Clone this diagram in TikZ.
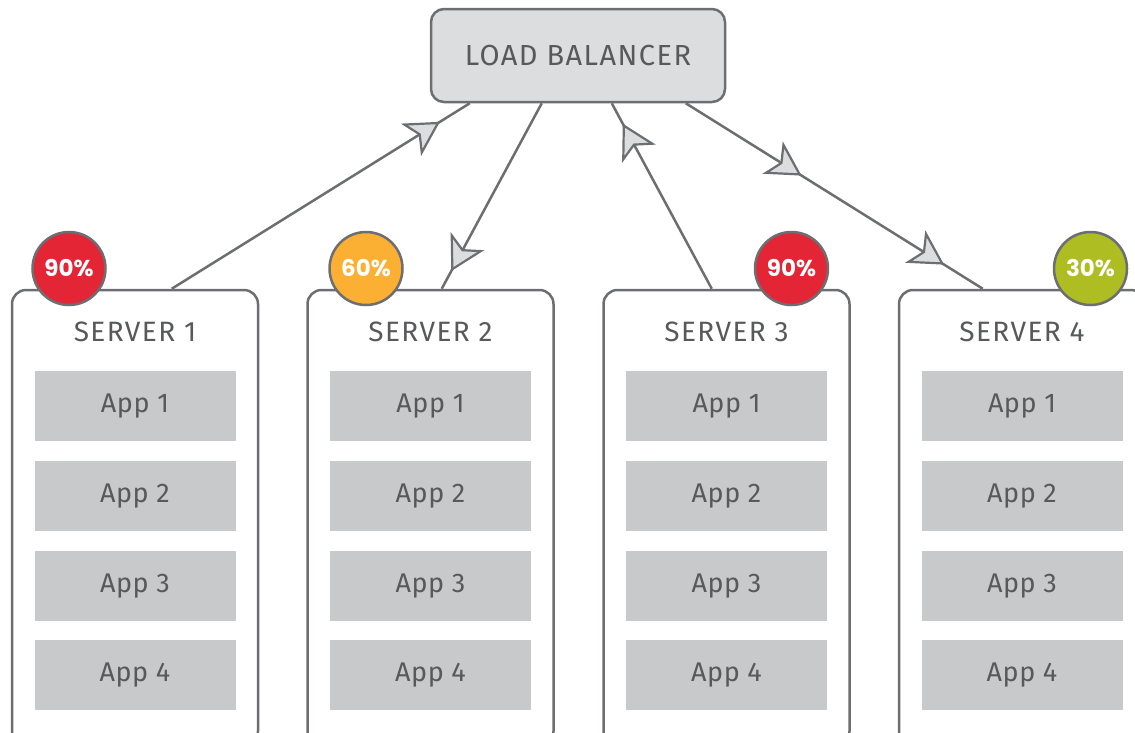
\documentclass[tikz,border=0pt]{standalone}
\usepackage{fontspec}
\setmainfont{Fira Sans}[LetterSpace=5]
\newfontfamily\appfont{Fira Sans}[LetterSpace=2]
\newfontfamily\pctfont{Poppins}
\usetikzlibrary{arrows.meta,decorations.markings}

\definecolor{edge}{HTML}{6D6E71}
\definecolor{ink}{HTML}{58595B}
\definecolor{lbfill}{HTML}{DCDDDF}
\definecolor{appfill}{HTML}{C8C9CB}
\definecolor{tipfill}{HTML}{DCDDDF}
\definecolor{hot}{HTML}{E42535}
\definecolor{warm}{HTML}{FBB034}
\definecolor{cool}{HTML}{AEBD21}

\tikzset{
  flowtip/.tip={Stealth[length=34pt, width=38pt, inset=9pt, fill=tipfill, line width=2.2pt]},
  lbbox/.style={draw=edge, line width=2.5pt, fill=lbfill, rounded corners=13pt,
    minimum width=294pt, minimum height=93pt, text=ink,
    font=\fontsize{29}{32}\selectfont},
  srvbox/.style={draw=edge, line width=2.5pt, fill=white, rounded corners=14pt,
    minimum width=246pt, minimum height=455pt},
  srvtitle/.style={text=ink, font=\fontsize{28}{30}\selectfont},
  appbox/.style={fill=appfill, minimum width=201pt, minimum height=70pt,
    text=ink, font=\appfont\fontsize{27}{29}\selectfont},
  load/.style={circle, draw=edge, line width=2.5pt, minimum size=73pt,
    inner sep=0pt, text=white, font=\pctfont\bfseries\fontsize{23}{25}\selectfont},
  flow/.style={draw=edge, line width=2.5pt, postaction={decorate},
    decoration={markings, mark=at position #1 with {\arrow{flowtip}}}},
  flowtwo/.style 2 args={draw=edge, line width=2.5pt, postaction={decorate},
    decoration={markings,
      mark=at position #1 with {\arrow{flowtip}},
      mark=at position #2 with {\arrow{flowtip}}}}
}

\begin{document}
\begin{tikzpicture}[x=1pt, y=-1pt]
\useasboundingbox (0,0) rectangle (1135,732);
\clip (0,0) rectangle (1135,732);

% load balancer
\node[lbbox] (lb) at (578,55.5) {LOAD BALANCER};

% servers with their applications
\foreach \i/\cx in {1/135, 2/430.5, 3/726.5, 4/1022} {
  \node[srvbox] (s\i) at (\cx,517.5) {};
  \node[srvtitle] (t\i) at (\cx,332) {SERVER \i};
  \foreach \k/\cy in {1/406, 2/496, 3/586, 4/675} {
    \node[appbox] (a\i\k) at (\cx,\cy) {\raisebox{-2pt}{App \k}};
  }
}

% attachment points of the connectors
\coordinate (s1out) at ([xshift=161pt]s1.north west);
\coordinate (lbin1) at ([xshift=40pt]lb.south west);
\coordinate (lbout2) at ([xshift=112pt]lb.south west);
\coordinate (s2in) at ([xshift=135.5pt]s2.north west);
\coordinate (s3out) at ([xshift=109.5pt]s3.north west);
\coordinate (lbin3) at ([xshift=182pt]lb.south west);
\coordinate (lbout4) at ([xshift=256pt]lb.south west);
\coordinate (s4in) at ([xshift=85pt]s4.north west);

% traffic
\draw[flow=0.90] (s1out) -- (lbin1);
\draw[flow=0.905] (lbout2) -- (s2in);
\draw[flow=0.89] (s3out) -- (lbin3);
\draw[flowtwo={0.39}{0.87}] (lbout4) -- (s4in);

% load badges
\node[load, fill=hot]  (c1) at (69,268.5)  {90\%};
\node[load, fill=warm] (c2) at (366,268.5) {60\%};
\node[load, fill=hot]  (c3) at (791.5,268.5) {90\%};
\node[load, fill=cool] (c4) at (1090.5,268.5) {30\%};
\end{tikzpicture}
\end{document}
